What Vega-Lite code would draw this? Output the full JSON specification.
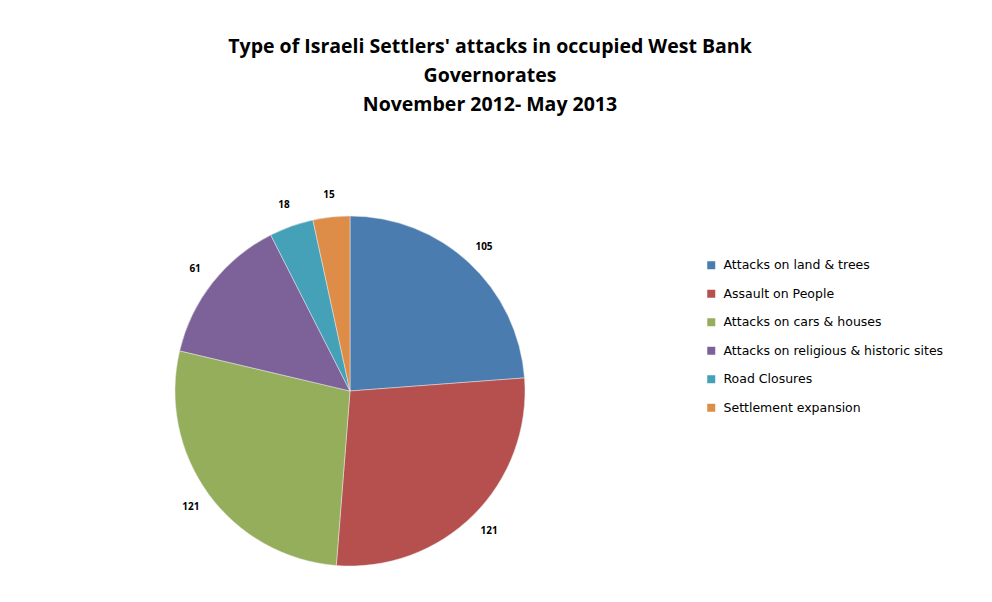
{
  "$schema": "https://vega.github.io/schema/vega-lite/v6.json",
  "width": 350,
  "height": 350,
  "autosize": {"type": "none"},
  "padding": {"left": 175, "top": 216, "right": 467, "bottom": 36},
  "background": "white",
  "config": {"view": {"stroke": null}, "font": "Open Sans"},
  "title": {
    "text": ["Type of Israeli Settlers' attacks in occupied West Bank", "Governorates", "November 2012- May 2013"],
    "anchor": "middle",
    "frame": "group",
    "dx": 140,
    "offset": 75,
    "fontSize": 19.5,
    "fontWeight": "bold",
    "font": "Open Sans",
    "lineHeight": 29,
    "color": "#000000"
  },
  "data": {
    "values": [
      {"idx": 1, "type": "Attacks on land & trees", "count": 105},
      {"idx": 2, "type": "Assault on People", "count": 121},
      {"idx": 3, "type": "Attacks on cars & houses", "count": 121},
      {"idx": 4, "type": "Attacks on religious & historic  sites", "count": 61},
      {"idx": 5, "type": "Road Closures", "count": 18},
      {"idx": 6, "type": "Settlement expansion", "count": 15}
    ]
  },
  "encoding": {
    "theta": {"field": "count", "type": "quantitative", "stack": true},
    "order": {"field": "idx", "type": "quantitative"}
  },
  "layer": [
    {
      "mark": {"type": "arc", "stroke": "#e8e8e8", "strokeWidth": 0.5},
      "encoding": {
        "color": {
          "field": "type",
          "type": "nominal",
          "sort": {"field": "idx"},
          "scale": {
            "domain": ["Attacks on land & trees", "Assault on People", "Attacks on cars & houses", "Attacks on religious & historic  sites", "Road Closures", "Settlement expansion"],
            "range": ["#4B7CAF", "#B5504E", "#95AE5B", "#7C6299", "#45A1B7", "#DE8D48"]
          },
          "legend": {
            "title": null,
            "orient": "none",
            "legendX": 530,
            "legendY": 43,
            "symbolType": "square",
            "symbolSize": 64,
            "symbolStrokeWidth": 0,
            "labelFontSize": 12.5,
            "labelFont": "DejaVu Sans",
            "labelColor": "#000000",
            "rowPadding": 15.5,
            "labelOffset": 6,
            "labelLimit": 400
          }
        }
      }
    },
    {
      "mark": {"type": "text", "radius": 197, "fontSize": 10, "fontWeight": "bold", "font": "Open Sans", "color": "#000000"},
      "encoding": {"text": {"field": "count", "type": "quantitative"}}
    }
  ]
}
